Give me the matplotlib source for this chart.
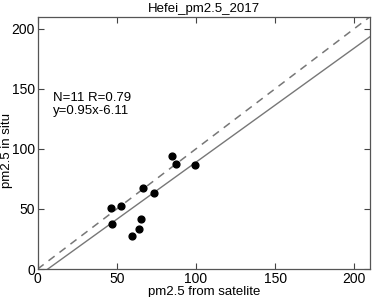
import matplotlib
matplotlib.use("Agg")
import matplotlib.pyplot as plt
import numpy as np

plt.rcParams['font.family'] = ['Liberation Sans', 'DejaVu Sans']

title = "Hefei_pm2.5_2017"
sat = [85.0, 87.3, 99.2, 66.8, 73.6, 46.5, 52.9, 47.1, 65.5, 64.3, 59.9]
insitu = [94.4, 87.2, 86.4, 67.5, 63.6, 50.5, 52.8, 37.8, 41.7, 33.6, 27.5]
slope = 0.95
intercept = -6.11
stats_text = "N=11 R=0.79\ny=0.95x-6.11"
ticks = [0, 50, 100, 150, 200]

fig = plt.figure(figsize=(3.72, 2.97), dpi=100)
ax = fig.add_axes([0.101, 0.094, 0.894, 0.850])

lim = 210
xs = np.array([0, lim])
ax.plot(xs, xs, color='#777777', lw=1.1, ls=(0, (5, 4)))
ax.plot(xs, slope * xs + intercept, color='#777777', lw=1.0)
ax.scatter(sat, insitu, s=24, color='black', zorder=3)

ax.set_xlim(0, lim)
ax.set_ylim(0, lim)
ax.set_xticks(ticks)
ax.set_yticks(ticks)
ax.tick_params(direction='in', top=True, right=True, length=4, width=0.8,
               labelsize=10, color='#444444', pad=2)
for s in ax.spines.values():
    s.set_color('#555555')
    s.set_linewidth(0.9)

ax.text(9.7, 137, stats_text, fontsize=9.5, va='center', ha='left', linespacing=1.1)
ax.set_title(title, fontsize=9.5, pad=3)
ax.set_xlabel("pm2.5 from satelite", fontsize=9.5, labelpad=0)
ax.set_ylabel("pm2.5 in situ", fontsize=9.5)
ax.yaxis.set_label_coords(-0.074, 0.47)

fig.savefig("out.png", dpi=100)
